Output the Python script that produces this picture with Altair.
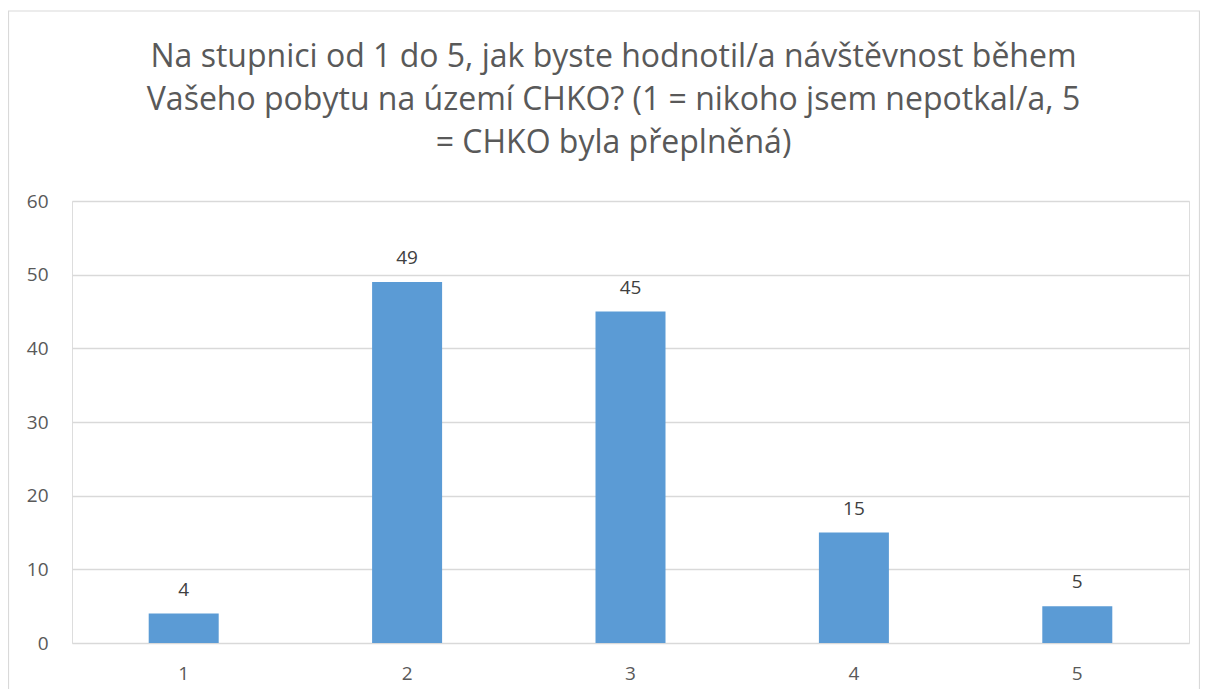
import altair as alt
import pandas as pd

categories = ["1", "2", "3", "4", "5"]
counts = [4, 49, 45, 15, 5]
title_lines = [
    "Na stupnici od 1 do 5, jak byste hodnotil/a návštěvnost během",
    "Vašeho pobytu na území CHKO? (1 = nikoho jsem nepotkal/a, 5",
    "= CHKO byla přeplněná)",
]
y_ticks = [0, 10, 20, 30, 40, 50, 60]

df = pd.DataFrame({"cat": categories, "count": counts})

FONT = "Open Sans"
W, H = 1117, 442

base = alt.Chart(df)

border = alt.Chart(pd.DataFrame({"a": [0]})).mark_rect(
    fill="white", fillOpacity=0, stroke="#D9D9D9", strokeWidth=1.2
).encode(
    x=alt.value(-63.5), x2=alt.value(W + 10.5),
    y=alt.value(-190), y2=alt.value(H + 80),
)

bars = base.mark_bar(color="#5B9BD5", width=70).encode(
    x=alt.X("cat:N", sort=categories, title=None,
            scale=alt.Scale(paddingInner=0, paddingOuter=0),
            axis=alt.Axis(labelAngle=0, domain=False, ticks=False,
                          labelPadding=21, labelFontSize=19,
                          labelColor="#595959", labelFont=FONT)),
    y=alt.Y("count:Q", title=None,
            scale=alt.Scale(domain=[0, 60], nice=False),
            axis=alt.Axis(values=y_ticks, domain=False, ticks=False,
                          labelPadding=24, labelFontSize=19,
                          labelColor="#595959", labelFont=FONT,
                          gridColor="#D9D9D9", gridWidth=1.3)),
)

labels = base.mark_text(baseline="alphabetic", dy=-18, fontSize=19,
                        color="#404040", font=FONT).encode(
    x=alt.X("cat:N", sort=categories),
    y=alt.Y("count:Q"),
    text=alt.Text("count:Q"),
)

chart = alt.layer(border, bars, labels).properties(
    width=W, height=H,
    title=alt.TitleParams(text=title_lines, anchor="middle", fontSize=32,
                          lineHeight=43, font=FONT, fontWeight="normal",
                          color="#595959", offset=-150, dx=-17),
    autosize=alt.AutoSizeParams(type="none"),
    padding={"left": 64, "top": 193, "right": 11, "bottom": 46},
).configure_view(stroke=None).configure(background="white")

chart.save("out.html", embed_options={"renderer": "svg", "actions": False})
